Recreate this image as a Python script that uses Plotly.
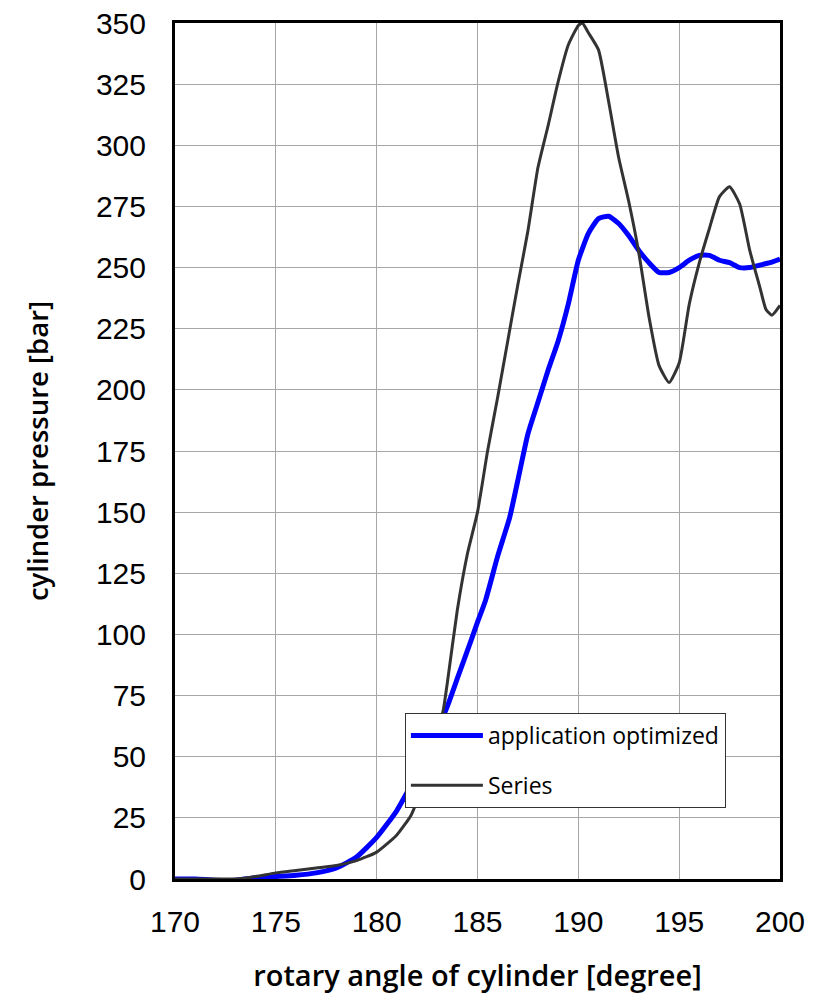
import plotly.graph_objects as go

# Crank angle [degree] and cylinder pressure [bar]
angle_opt = [170, 171, 172, 173, 174, 175, 176, 177, 178, 179, 180, 181, 182, 183,
             183.5, 184, 184.7, 185, 185.4, 186, 186.6, 187, 187.5, 188, 188.5, 189,
             189.5, 190, 190.5, 191, 191.5, 192, 192.5, 193, 193.5, 194, 194.5, 195,
             195.5, 196, 196.5, 197, 197.5, 198, 198.5, 199, 199.5, 200]
pressure_opt = [0, 0, -0.5, -0.5, 0.5, 1, 1.5, 2.5, 4.5, 9, 17, 28, 43, 61,
                70.5, 82, 98, 105, 114, 132, 148, 163, 182, 195, 208, 220,
                235, 253, 264, 270, 271, 268, 263, 257, 252, 248, 248, 250,
                253, 255, 255, 253, 252, 250, 250, 251, 252, 253.5]

angle_series = [170, 172, 173, 174, 175, 176, 177, 178, 179, 180, 181, 181.7, 182,
                182.5, 183, 183.3, 183.5, 184, 184.5, 185, 185.5, 186, 186.5, 187,
                187.5, 188, 188.5, 189, 189.5, 190, 190.2, 190.5, 191, 191.5, 192,
                192.5, 193, 193.5, 194, 194.5, 195, 195.5, 196, 196.5, 197, 197.5,
                198, 198.5, 199, 199.3, 199.6, 200]
pressure_series = [0, 0, 0, 1, 2.5, 3.5, 4.5, 5.5, 7.5, 11, 18, 26, 32,
                   45, 60, 69, 80, 110, 133, 150, 175, 197, 220, 243,
                   265, 291, 308, 326, 341, 349, 350, 346, 339, 318, 295,
                   277, 256, 230, 210, 203, 211, 235, 252, 266, 279, 283,
                   276, 257, 242, 233, 230.5, 234.5]

x_ticks = [170, 175, 180, 185, 190, 195, 200]
y_ticks = list(range(0, 351, 25))

fig = go.Figure()
fig.add_trace(go.Scatter(
    x=angle_opt, y=pressure_opt, mode="lines", name="application optimized",
    line=dict(color="#0000ff", width=5, shape="spline", smoothing=0.5),
    legendgroup="a", legendrank=1,
))
fig.add_trace(go.Scatter(
    x=angle_series, y=pressure_series, mode="lines", name="Series",
    line=dict(color="#333333", width=3, shape="spline", smoothing=0.5),
    legendgroup="b", legendrank=2,
))

axis_font = dict(family="Liberation Sans, Arial, sans-serif", size=30, color="#000000")
xtitle_font = dict(family="Open Sans, sans-serif", size=29, color="#000000", weight=600)
ytitle_font = dict(family="Open Sans, sans-serif", size=27.5, color="#000000", weight=600)

fig.update_layout(
    width=821, height=1000,
    margin=dict(l=175, r=41, t=23, b=121),
    paper_bgcolor="white", plot_bgcolor="white",
    showlegend=True,
    legend=dict(
        x=0.38, y=0.194, xanchor="left", yanchor="top",
        bgcolor="white", bordercolor="#333333", borderwidth=1,
        font=dict(family="Open Sans, sans-serif", size=23, color="#000000"),
        traceorder="grouped", tracegroupgap=17,
        itemwidth=72,
    ),
    xaxis=dict(
        range=[170, 200], tickvals=x_ticks, tickfont=axis_font,
        showgrid=True, gridcolor="#a6a6a6", gridwidth=1,
        showline=True, linecolor="#000000", linewidth=3, mirror=True,
        zeroline=False, ticks="", ticklabelstandoff=14, automargin=False,
        title=dict(text="rotary angle of cylinder [degree]", font=xtitle_font, standoff=29),
    ),
    yaxis=dict(
        range=[0, 350], tickvals=y_ticks, tickfont=axis_font,
        showgrid=True, gridcolor="#a6a6a6", gridwidth=1,
        showline=True, linecolor="#000000", linewidth=3, mirror=True,
        zeroline=False, ticks="", ticklabelstandoff=20, automargin=False,
        title=dict(text="cylinder pressure [bar]", font=ytitle_font, standoff=40),
    ),
)

fig.write_html("out.html")
